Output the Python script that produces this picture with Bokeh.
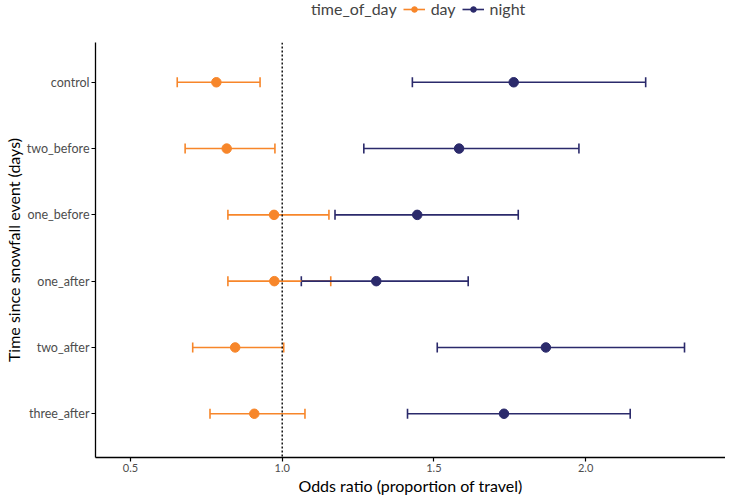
from bokeh.plotting import figure
from bokeh.layouts import column
from bokeh.models import (Range1d, FixedTicker, Whisker, ColumnDataSource, Legend,
                          LegendItem, Span, TeeHead)
from bokeh.embed import file_html
from bokeh.resources import INLINE

categories = ["control", "two_before", "one_before", "one_after", "two_after", "three_after"]
day_or = [0.783, 0.817, 0.973, 0.974, 0.845, 0.908]
day_lo = [0.654, 0.680, 0.821, 0.821, 0.705, 0.762]
day_hi = [0.927, 0.976, 1.154, 1.160, 1.005, 1.075]
night_or = [1.763, 1.583, 1.445, 1.310, 1.869, 1.731]
night_lo = [1.429, 1.269, 1.174, 1.063, 1.511, 1.413]
night_hi = [2.198, 1.978, 1.778, 1.613, 2.326, 2.147]
x_ticks = [0.5, 1.0, 1.5, 2.0]

DAY = "#F7862A"
NIGHT = "#2B2A6B"
FONT = "Lato"

ypos = list(range(len(categories), 0, -1))

day_src = ColumnDataSource(dict(y=ypos, est=day_or, lo=day_lo, hi=day_hi))
night_src = ColumnDataSource(dict(y=ypos, est=night_or, lo=night_lo, hi=night_hi))

p = figure(frame_width=630, height=479, output_backend="svg", toolbar_location=None,
           x_range=Range1d(0.3846, 2.4611), y_range=Range1d(0.34, 6.6),
           min_border_left=0, min_border_right=0, min_border_top=24, min_border_bottom=0)
p.outline_line_color = None
p.xgrid.grid_line_color = None
p.ygrid.grid_line_color = None

# stems
p.segment(x0="lo", x1="hi", y0="y", y1="y", source=day_src, line_color=DAY, line_width=1.6)
p.segment(x0="lo", x1="hi", y0="y", y1="y", source=night_src, line_color=NIGHT, line_width=1.6)

for src, col in ((day_src, DAY), (night_src, NIGHT)):
    w = Whisker(base="y", lower="lo", upper="hi", source=src, dimension="width",
                line_alpha=0,
                upper_head=TeeHead(size=10, line_color=col, line_width=1.6),
                lower_head=TeeHead(size=10, line_color=col, line_width=1.6))
    p.add_layout(w)

vline = Span(location=1.0, dimension="height", line_color="black", line_width=1.4, line_dash="2 2")
p.add_layout(vline)

p.scatter(x="est", y="y", source=day_src, size=9.5, color=DAY)
p.scatter(x="est", y="y", source=night_src, size=9.5, color=NIGHT)

# axes
p.xaxis.ticker = FixedTicker(ticks=x_ticks)
p.xaxis.major_label_overrides = {t: f"{t:.1f}" for t in x_ticks}
p.yaxis.ticker = FixedTicker(ticks=ypos)
p.yaxis.major_label_overrides = {y: c for y, c in zip(ypos, categories)}
for ax in (p.xaxis[0], p.yaxis[0]):
    ax.axis_line_color = "black"
    ax.axis_line_width = 1.3
    ax.major_tick_line_color = "black"
    ax.major_tick_line_width = 1.2
    ax.major_tick_out = 4
    ax.major_tick_in = 0
    ax.minor_tick_line_color = None
    ax.major_label_text_color = "#4d4d4d"
    ax.major_label_text_font = FONT
    ax.axis_label_text_font = FONT
    ax.axis_label_text_font_style = "normal"
    ax.axis_label_text_color = "black"
    ax.axis_label_text_font_size = "16px"
    ax.major_label_standoff = 2
    ax.axis_label_standoff = 1
p.xaxis.major_label_text_font_size = "11px"
p.yaxis.major_label_text_font_size = "12.5px"
p.xaxis.axis_label = "Odds ratio (proportion of travel)"
p.yaxis.axis_label = "Time since snowfall event (days)"

# legend strip
leg = figure(width=720, height=18, output_backend="svg", toolbar_location=None,
             x_range=Range1d(0, 1), y_range=Range1d(0, 1), min_border=0)
leg.axis.visible = False
leg.grid.grid_line_color = None
leg.outline_line_color = None
t_r = leg.scatter(x=[-5], y=[-5], size=0, fill_alpha=0, line_alpha=0)
d_l = leg.line(x=[-5, -4], y=[-5, -5], line_color=DAY, line_width=1.6)
d_p = leg.scatter(x=[-5], y=[-5], size=7, color=DAY)
n_l = leg.line(x=[-5, -4], y=[-5, -5], line_color=NIGHT, line_width=1.6)
n_p = leg.scatter(x=[-5], y=[-5], size=7, color=NIGHT)
legend = Legend(items=[LegendItem(label="time_of_day", renderers=[t_r]),
                       LegendItem(label="day", renderers=[d_l, d_p]),
                       LegendItem(label="night", renderers=[n_l, n_p])],
                orientation="horizontal", location=(188, 0),
                border_line_color=None, background_fill_alpha=0,
                label_text_font=FONT, label_text_font_size="16px",
                glyph_width=22, glyph_height=14, label_height=18,
                spacing=6, padding=0, margin=0, label_standoff=6)
leg.add_layout(legend)

open("out.html", "w").write(file_html(column(leg, p, spacing=0), INLINE))
